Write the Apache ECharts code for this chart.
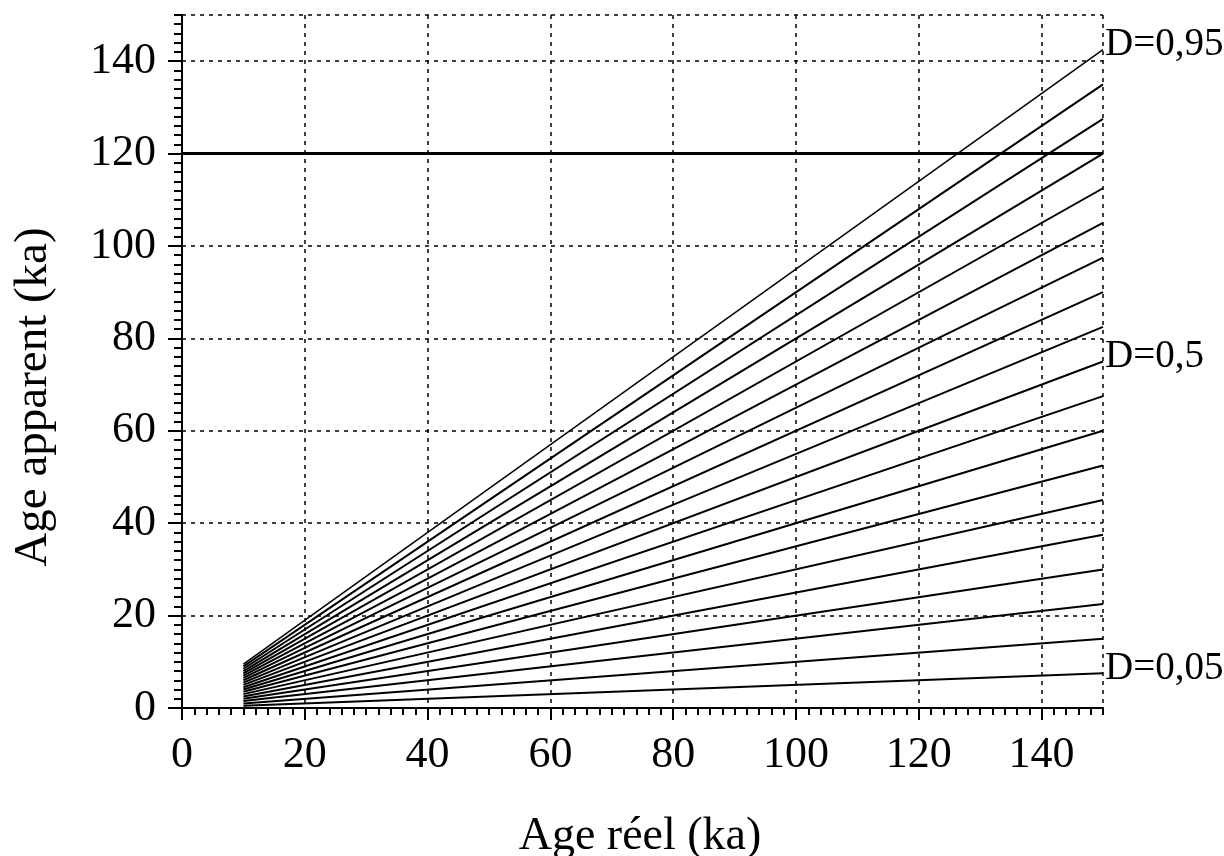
<!DOCTYPE html>
<html>
<head>
<meta charset="utf-8">
<title>Age apparent / Age réel</title>
<script src="https://cdn.jsdelivr.net/npm/echarts@6/dist/echarts.min.js"></script>
<style>
  html, body { margin: 0; padding: 0; background: #fff; }
  #main { width: 1224px; height: 856px; }
</style>
</head>
<body>
<div id="main"></div>
<script>
// age réel de début et de fin des droites (ka)
var ageReel = [10, 150];
// age apparent au début (x=10) et à la fin (x=150) de chaque droite
var apparentDebut = [0.5, 1, 1.5, 2, 2.5, 3, 3.5, 4, 4.5, 5, 5.5, 6, 6.5, 7, 7.5, 8, 8.5, 9, 9.5];
var apparentFin = [7.5, 15, 22.5, 30, 37.5, 45, 52.5, 60, 67.5, 75, 82.5, 90, 97.5, 105, 112.5, 120, 127.5, 135, 142.5];
var etiquettes = ["D=0,05", "", "", "", "", "", "", "", "", "D=0,5", "", "", "", "", "", "", "", "", "D=0,95"];
// limite horizontale
var limiteX = [0, 150];
var limiteY = 120;

var police = "'Liberation Serif', 'Times New Roman', serif";

var myChart = echarts.init(document.getElementById("main"));

var series = [];
for (var i = 0; i < apparentDebut.length; i++) {
  series.push({
    type: "line",
    symbol: "none",
    silent: true,
    animation: false,
    data: [[ageReel[0], apparentDebut[i]], [ageReel[1], apparentFin[i]]],
    lineStyle: { color: "#000", width: i === apparentDebut.length - 1 ? 1.5 : 2 },
    endLabel: {
      show: etiquettes[i] !== "",
      formatter: etiquettes[i],
      distance: 2,
      offset: [0, -5],
      color: "#000",
      fontFamily: police,
      fontSize: 39
    }
  });
}
series.push({
  type: "line",
  symbol: "none",
  silent: true,
  animation: false,
  data: [[limiteX[0], limiteY], [limiteX[1], limiteY]],
  lineStyle: { color: "#000", width: 3 }
});

var grilleStyle = { color: "#000", width: 1.5, type: [4, 5] };

var option = {
  backgroundColor: "#fff",
  animation: false,
  grid: { left: 182, right: 121, top: 15, bottom: 148 },
  xAxis: [
    {
      type: "value", position: "bottom", min: 0, max: 150, interval: 20,
      axisLine: { lineStyle: { color: "#000", width: 2 } },
      axisTick: { show: true, length: 12, lineStyle: { color: "#000", width: 2 } },
      axisLabel: { margin: 25, color: "#000", fontFamily: police, fontSize: 44, showMaxLabel: false },
      splitLine: { show: true, lineStyle: grilleStyle }
    },
    {
      type: "value", position: "bottom", min: 0, max: 150, interval: 2,
      axisLine: { show: false },
      axisTick: { show: true, length: 7, lineStyle: { color: "#000", width: 2 } },
      axisLabel: { show: false },
      splitLine: { show: false }
    },
    {
      type: "value", position: "top", min: 0, max: 150, interval: 2,
      axisLine: { show: true, lineStyle: { color: "#000", width: 2 } },
      axisTick: { show: true, inside: true, length: 7, lineStyle: { color: "#000", width: 2 } },
      axisLabel: { show: false },
      splitLine: { show: false }
    }
  ],
  yAxis: [
    {
      type: "value", position: "left", min: 0, max: 150, interval: 20,
      axisLine: { lineStyle: { color: "#000", width: 2 } },
      axisTick: { show: true, length: 14, lineStyle: { color: "#000", width: 2 } },
      axisLabel: { margin: 26, color: "#000", fontFamily: police, fontSize: 44, showMaxLabel: false },
      splitLine: { show: true, lineStyle: grilleStyle }
    },
    {
      type: "value", position: "left", min: 0, max: 150, interval: 2,
      axisLine: { show: false },
      axisTick: { show: true, length: 8, lineStyle: { color: "#000", width: 2 } },
      axisLabel: { show: false },
      splitLine: { show: false }
    },
    {
      type: "value", position: "right", min: 0, max: 150, interval: 50,
      axisLine: { show: true, lineStyle: { color: "#000", width: 2 } },
      axisTick: { show: false },
      axisLabel: { show: false },
      splitLine: { show: false }
    }
  ],
  graphic: [
    {
      type: "text", x: 640, y: 837,
      style: { text: "Age réel (ka)", font: "46px " + police, fill: "#000", textAlign: "center", textVerticalAlign: "middle" }
    },
    {
      type: "text", x: 34, y: 397, rotation: Math.PI / 2,
      style: { text: "Age apparent (ka)", font: "47px " + police, fill: "#000", textAlign: "center", textVerticalAlign: "middle" }
    }
  ],
  series: series
};

myChart.setOption(option);
</script>
</body>
</html>
